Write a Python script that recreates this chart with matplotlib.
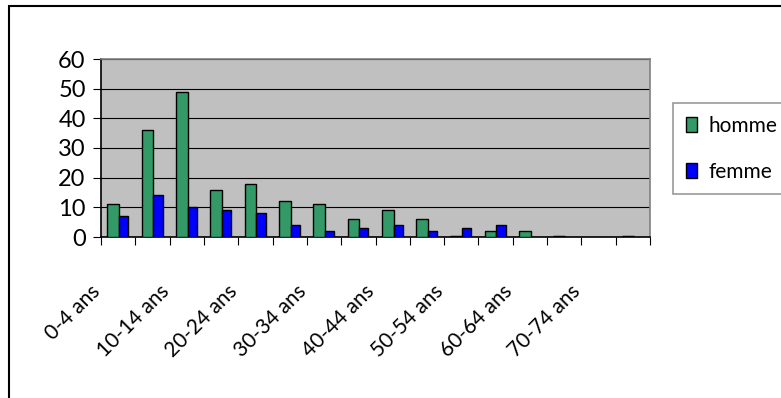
import numpy as np
import matplotlib
matplotlib.use('Agg')
import matplotlib.pyplot as plt
import matplotlib.transforms as mtransforms
from matplotlib.patches import Rectangle

# tranches d'age
ages = ['0-4 ans', '5-9 ans', '10-14 ans', '15-19 ans', '20-24 ans', '25-29 ans',
        '30-34 ans', '35-39 ans', '40-44 ans', '45-49 ans', '50-54 ans', '55-59 ans',
        '60-64 ans', '65-69 ans', '70-74 ans', '75-79 ans']
homme = [11, 36, 49, 16, 18, 12, 11, 6, 9, 6, 0, 2, 2, 0, np.nan, 0]
femme = [7, 14, 10, 9, 8, 4, 2, 3, 4, 2, 3, 4, np.nan, np.nan, np.nan, np.nan]

plt.rcParams['font.family'] = ['Lato', 'DejaVu Sans']

fig = plt.figure(figsize=(7.81, 3.98), dpi=100)
ax = fig.add_axes([101/781, 1-237/398, 549/781, 178/398])
ax.set_facecolor('#C0C0C0')

x = np.arange(len(ages))
xh = x - 0.315
ax.bar(xh, homme, width=0.34, align='edge', color='#339966',
       edgecolor='black', linewidth=1.0, label='homme', zorder=3)
ax.bar(x + 0.025, femme, width=0.27, align='edge', color='#0000FF',
       edgecolor='black', linewidth=1.0, label='femme', zorder=3)

# zero-valued bars still show as a flat outline
h = np.array(homme)
zero = h == 0
ax.hlines(h[zero], xh[zero], xh[zero] + 0.34, color='black', linewidth=2.5, zorder=4)

ax.set_xlim(-0.5, len(ages) - 0.5)
ax.set_ylim(0, 60)
ax.set_yticks(range(0, 61, 10))
ax.yaxis.grid(True, color='black', linewidth=0.8, zorder=1)
ax.set_axisbelow(True)
ax.tick_params(axis='y', direction='out', length=6, width=0.8, labelsize=17, pad=5)

# tick marks at category boundaries, labels every other category
ax.set_xticks(np.arange(-0.5, len(ages)), minor=True)
ax.set_xticks(x[::2])
ax.set_xticklabels(ages[::2], rotation=45, ha='right', va='top',
                   rotation_mode='anchor', fontsize=15)
ax.tick_params(axis='x', which='major', length=0, pad=32)
ax.tick_params(axis='x', which='minor', direction='out', length=6, width=0.8)
shift = mtransforms.ScaledTranslation(-28/100, 0, fig.dpi_scale_trans)
for lab in ax.get_xticklabels():
    lab.set_transform(lab.get_transform() + shift)

ax.spines['left'].set_color('black')
ax.spines['bottom'].set_color('black')
ax.spines['top'].set_color('#808080')
ax.spines['right'].set_color('#808080')
for s in ax.spines.values():
    s.set_linewidth(1.2)

leg = fig.legend(loc='upper left', bbox_to_anchor=(673/781, 1-103/398),
                 frameon=True, fancybox=False, edgecolor='#808080',
                 fontsize=15, handlelength=0.55, handleheight=0.7,
                 handletextpad=0.55, labelspacing=1.25, borderpad=0.6,
                 borderaxespad=0)
leg.get_frame().set_linewidth(1.2)

# chart border (cropped at right and bottom)
fig.add_artist(Rectangle((9/781, -0.5), 2, 1.5 - 6/398, transform=fig.transFigure,
                         fill=False, edgecolor='black', linewidth=1.5))

fig.savefig('out.png', dpi=100)
